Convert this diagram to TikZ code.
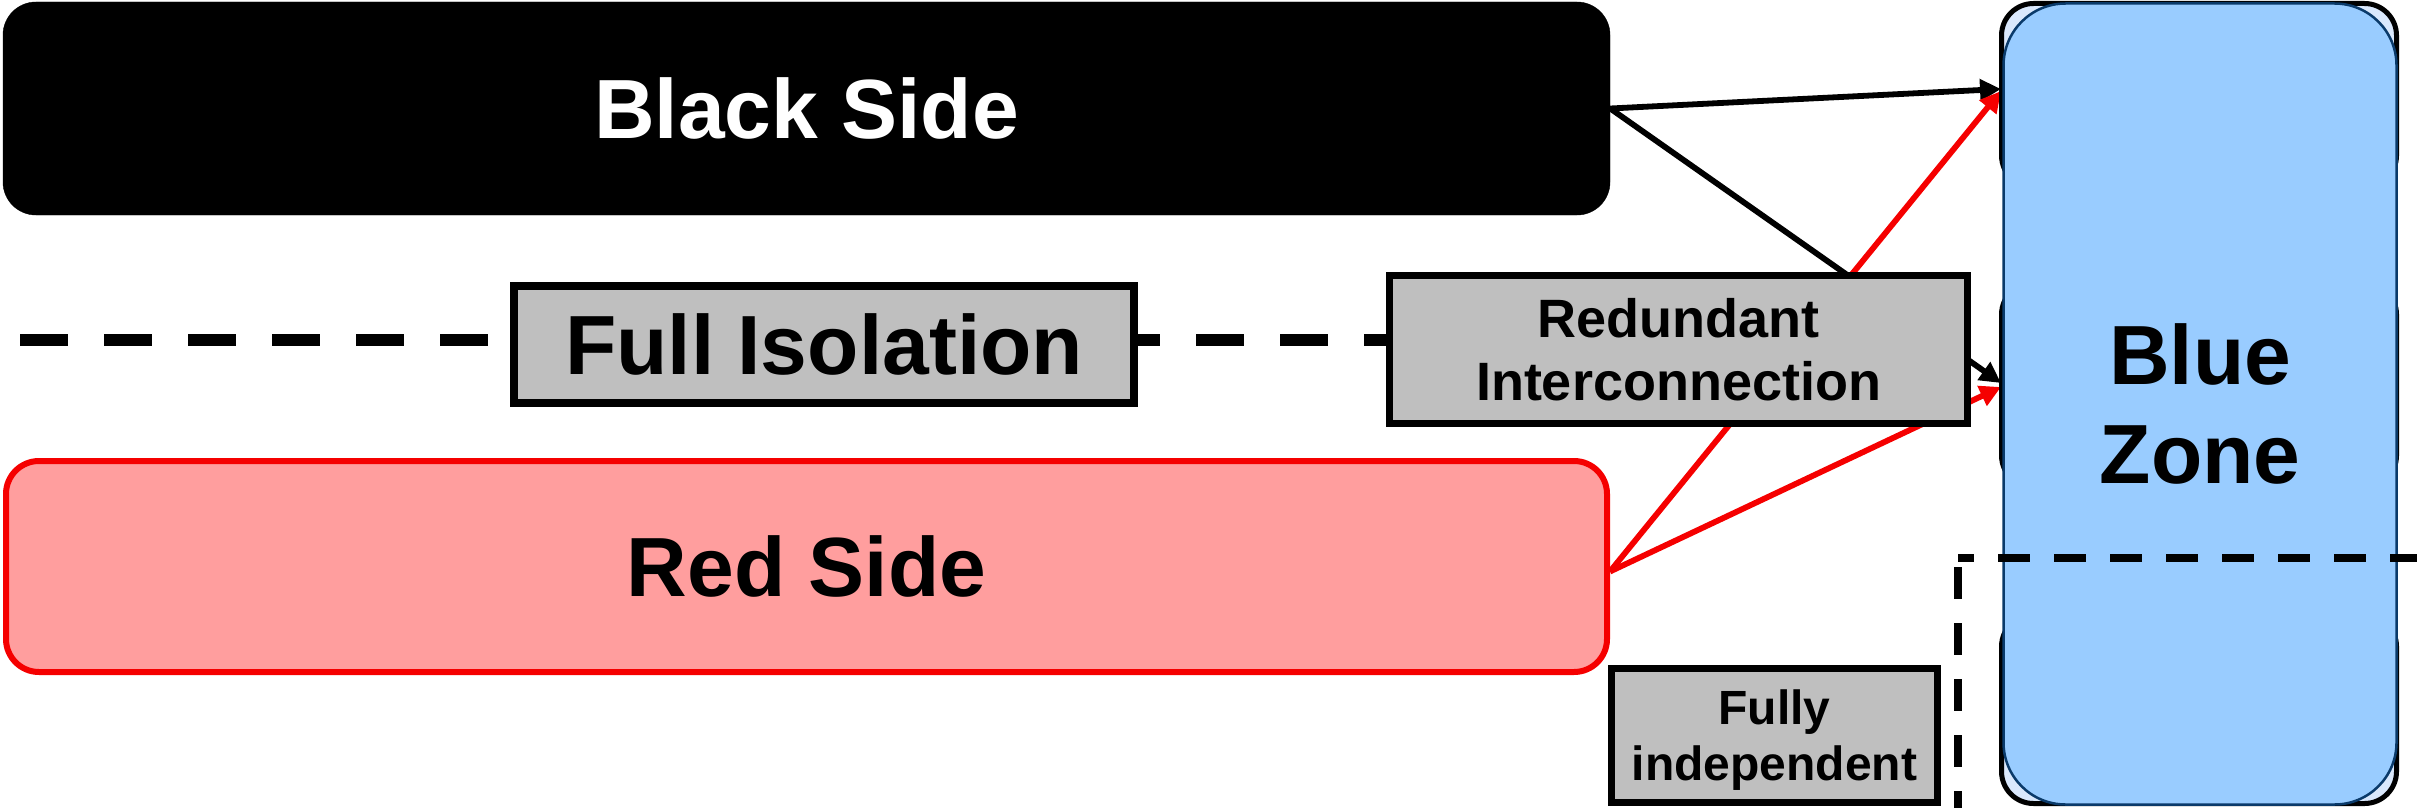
\documentclass[tikz,border=0pt]{standalone}
\usepackage{fontspec}
\setmainfont{Liberation Sans}
\usetikzlibrary{arrows.meta,backgrounds}
\definecolor{redfill}{HTML}{FF9E9E}
\definecolor{redline}{HTML}{F50000}
\definecolor{grayfill}{HTML}{BFBFBF}
\definecolor{bluefill}{HTML}{99CCFF}
\definecolor{bluedark}{HTML}{0A3A6A}
\definecolor{lightblue}{HTML}{DAE8FC}
\tikzset{
 sidebox/.style={rectangle, rounded corners=33pt, inner sep=0pt, font=\fontsize{84}{99}\selectfont\bfseries},
 graybox/.style={rectangle, draw=black, fill=grayfill, inner sep=0pt, align=center},
 bzback/.style={rectangle, draw=black, line width=5pt, fill=lightblue, rounded corners=32pt, inner sep=0pt, minimum width=395pt},
 conn/.style={line width=5.8pt},
 tipend/.style={-{Triangle[length=21pt,width=21pt]}},
 isoline/.style={line width=12pt, dash pattern=on 48pt off 36pt},
 zoneline/.style={line width=7.5pt, dash pattern=on 32pt off 24pt},
}
\begin{document}
\begin{tikzpicture}[x=1pt,y=-1pt]
\useasboundingbox (0,0) rectangle (2417,808);
% blue zone underlay
\node[bzback, minimum height=184pt] (bza) at (2199,95.5) {};
\node[bzback, minimum height=205pt] (bzb) at (2199,385) {};
\node[bzback, minimum height=189pt] (bzc) at (2199,709) {};
\node[rectangle, draw=bluedark, line width=2.5pt, fill=bluefill, rounded corners=62pt, inner sep=0pt,
      minimum width=393pt, minimum height=801pt, align=center,
      font=\fontsize{84}{99}\selectfont\bfseries] (bz) at (2200,404) {Blue\\Zone};
% zone split dashed line
\coordinate (zc) at (1958,558);
\coordinate (zr) at (2417,558);
\coordinate (zt) at (1958,567);
\coordinate (zb) at (1958,808);
\draw[zoneline, dash phase=16pt] (zc) -- (zr);
\draw[zoneline] (zt) -- (zb);
% boxes
\node[sidebox, fill=black, draw=black, text=white, minimum width=1607pt, minimum height=213pt] (black) at (806.5,108.5) {Black Side};
\node[sidebox, fill=redfill, draw=redline, line width=6pt, minimum width=1601pt, minimum height=211pt] (red) at (806.5,566.5) {Red Side};
\node[graybox, line width=8pt, minimum width=620pt, minimum height=117pt,
      font=\fontsize{84}{99}\selectfont\bfseries] (full) at (824,344.5) {Full Isolation};
\node[graybox, line width=7pt, minimum width=578pt, minimum height=148pt,
      font=\fontsize{54}{63}\selectfont\bfseries] (redund) at (1678.5,349.5) {Redundant\\Interconnection};
\node[graybox, line width=7pt, minimum width=326pt, minimum height=134pt,
      font=\fontsize{48}{56}\selectfont\bfseries] (fully) at (1774.5,735.5)
      {\raisebox{-6pt}[\height][\depth]{\begin{tabular}{@{}c@{}}Fully\\independent\end{tabular}}};
% connectors
\coordinate (t1) at (2001,89);
\coordinate (t1r) at (2001,91);
\coordinate (t2) at (2001,383);
\coordinate (t2r) at (2001,387);
\coordinate (isoL) at (20,340);
\begin{scope}[on background layer]
\draw[isoline] (isoL) -- (isoL -| redund.west);
\draw[conn, tipend] (black.east) -- (t1);
\draw[conn, tipend] (black.east) -- (t2);
\draw[conn, tipend, redline] ([yshift=-5pt]red.east) -- (t1r);
\draw[conn, tipend, redline] ([yshift=-5pt]red.east) -- (t2r);
\end{scope}
\end{tikzpicture}
\end{document}
